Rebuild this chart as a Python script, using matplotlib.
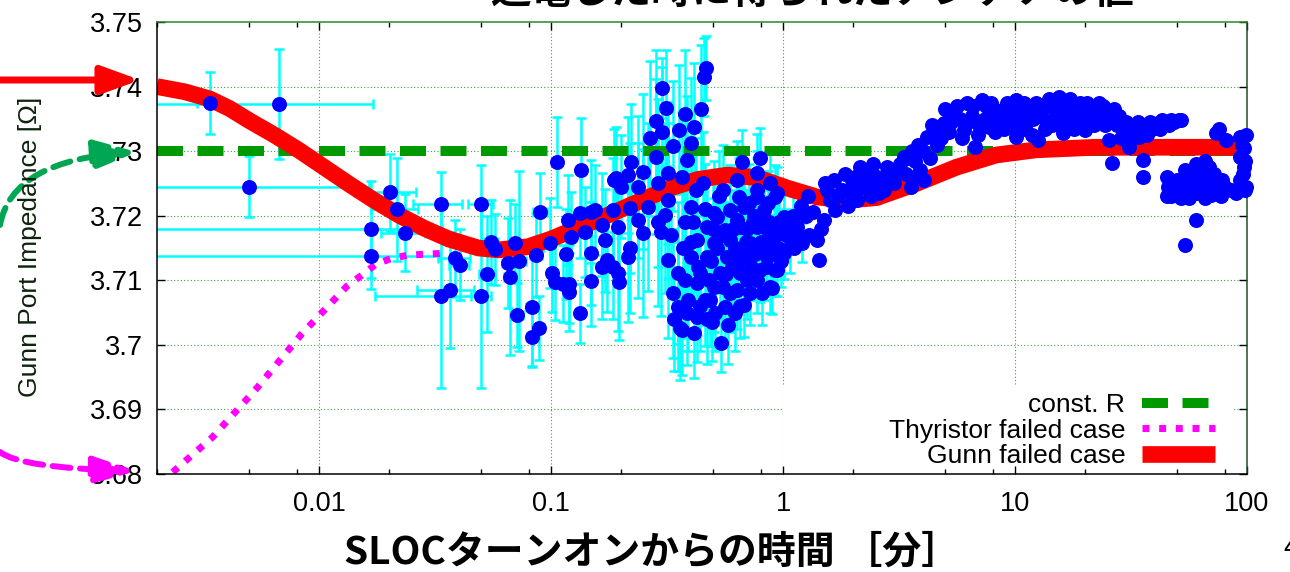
#!/usr/bin/env python3
"""Gunn port impedance vs. time after SLOC turn-on (slide figure)."""

import matplotlib
matplotlib.use("Agg")
import matplotlib.pyplot as plt
from matplotlib.patches import Rectangle, FancyArrowPatch
from matplotlib.path import Path
from matplotlib.ticker import FixedLocator, LogLocator, NullFormatter

# ---- values ----
TITLE = "通電した時に得られたアンテナの値"
XLABEL = "SLOCターンオンからの時間 ［分］"
YLABEL = "Gunn Port Impedance [Ω]"

x_ticks = [0.01, 0.1, 1, 10, 100]
x_ticklabels = ["0.01", "0.1", "1", "10", "100"]
y_ticks = [3.68, 3.69, 3.70, 3.71, 3.72, 3.73, 3.74, 3.75]
y_ticklabels = ["3.68", "3.69", "3.7", "3.71", "3.72", "3.73", "3.74", "3.75"]

const_x = [0.002, 100]
const_y = [3.73, 3.73]

thyristor_x = [0.00206, 0.00234, 0.00347, 0.00542, 0.00837, 0.01319, 0.01515,
               0.01757, 0.02057, 0.02434, 0.03508]
thyristor_y = [3.6786, 3.6803, 3.6857, 3.6934, 3.7016, 3.7091, 3.7107,
               3.7125, 3.7134, 3.7139, 3.7142]

gunn_x = [0.0020, 0.00263, 0.00337, 0.00411, 0.00501, 0.00641, 0.00821, 0.01051,
          0.01345, 0.01722, 0.02205, 0.02823, 0.03614, 0.04861, 0.05924, 0.07964,
          0.1000, 0.1243, 0.1591, 0.2037, 0.2608, 0.3340, 0.4275, 0.5749, 0.7735,
          1.040, 1.399, 1.882, 2.532, 3.760, 5.581, 8.287, 12.31, 22.26, 100]
gunn_y = [3.7400, 3.7392, 3.7381, 3.7366, 3.7347, 3.7325, 3.7301, 3.7275,
          3.7249, 3.7224, 3.7201, 3.7181, 3.7164, 3.7150, 3.7147, 3.7152,
          3.7164, 3.7178, 3.7194, 3.7211, 3.7228, 3.7244, 3.7256, 3.7263, 3.7259,
          3.7243, 3.7229, 3.7224, 3.7228, 3.7250, 3.7275, 3.7294, 3.7302, 3.7306, 3.7306]

# early points (x and y error bars)
early_x = [0.00337, 0.0067, 0.0050, 0.0167, 0.0167, 0.0202, 0.0217, 0.0235, 0.0334, 0.0334,
           0.0365, 0.0387, 0.0404, 0.0500, 0.0500, 0.0531, 0.0552, 0.0574, 0.0654, 0.0668,
           0.0700, 0.0730, 0.0715, 0.0830, 0.0830, 0.0888, 0.0860, 0.0896, 0.0990, 0.101]
early_y = [3.7375, 3.7373, 3.7245, 3.7179, 3.7137, 3.7236, 3.7210, 3.7174, 3.7218, 3.7076,
           3.7085, 3.7134, 3.7124, 3.7218, 3.7076, 3.7110, 3.7159, 3.7148, 3.7127, 3.7105,
           3.7158, 3.7130, 3.7046, 3.7059, 3.7012, 3.7026, 3.7139, 3.7206, 3.7158, 3.7111]
early_xerr = [0.0004, 0.0103, 0.0114, 0.0170, 0.0165, 0.0060, 0.0050, 0.0050, 0.0080, 0.0160,
              0.0100, 0.0060, 0.0040, 0.0060, 0.0050, 0.0040, 0.0040, 0.0040, 0.0040, 0.0040,
              0.0050, 0.0050, 0.0040, 0.0050, 0.0040, 0.0040, 0.0050, 0.0060, 0.0050, 0.0050]
early_yerr = [0.0048, 0.0085, 0.0047, 0.0075, 0.0050, 0.0060, 0.0080, 0.0060, 0.0050, 0.0143,
              0.0090, 0.0060, 0.0055, 0.0060, 0.0143, 0.0090, 0.0065, 0.0055, 0.0070, 0.0120,
              0.0060, 0.0140, 0.0050, 0.0093, 0.0045, 0.0050, 0.0065, 0.0060, 0.0070, 0.0060]

# dense cluster 0.1 - 1.2 min (y error bars)
mid_x = [0.104, 0.106, 0.113, 0.116, 0.118, 0.120, 0.120, 0.122, 0.133, 0.133,
         0.135, 0.140, 0.148, 0.148, 0.148, 0.155, 0.166, 0.166, 0.170, 0.175,
         0.185, 0.185, 0.186, 0.190, 0.194, 0.194, 0.197, 0.200, 0.214, 0.214,
         0.218, 0.218, 0.221, 0.236, 0.236, 0.250, 0.250, 0.261, 0.267, 0.284,
         0.284, 0.288, 0.288, 0.297, 0.300, 0.300, 0.309, 0.314, 0.318, 0.318,
         0.318, 0.336, 0.336, 0.351, 0.351, 0.355, 0.358, 0.365, 0.365, 0.378,
         0.378, 0.378, 0.385, 0.387, 0.400, 0.400, 0.400, 0.400, 0.412, 0.415,
         0.427, 0.427, 0.427, 0.440, 0.441, 0.450, 0.455, 0.460, 0.465, 0.472,
         0.472, 0.480, 0.486, 0.495, 0.505, 0.505, 0.505, 0.520, 0.521, 0.535,
         0.540, 0.550, 0.560, 0.560, 0.575, 0.590, 0.590, 0.590, 0.600, 0.620,
         0.635, 0.635, 0.635, 0.645, 0.655, 0.655, 0.660, 0.667, 0.680, 0.680,
         0.700, 0.700, 0.720, 0.720, 0.750, 0.774, 0.774, 0.774, 0.774, 0.774,
         0.797, 0.797, 0.820, 0.830, 0.850, 0.855, 0.880, 0.880, 0.880, 0.900,
         0.915, 0.925, 0.925, 0.944, 0.944, 0.950, 1.01, 1.01, 1.07, 1.15, 1.21,
         0.33, 0.34, 0.37, 0.39, 0.41, 0.42, 0.43, 0.44, 0.46, 0.47,
         0.49, 0.50, 0.51, 0.53, 0.54, 0.55, 0.57, 0.58, 0.61, 0.62,
         0.64, 0.65, 0.69, 0.70, 0.71, 0.73, 0.74, 0.76, 0.79, 0.80,
         0.81, 0.84, 0.86, 0.87, 0.90, 0.93, 0.96, 0.98, 1.03, 1.10]
mid_y = [3.7098, 3.7283, 3.7095, 3.7141, 3.7193, 3.7094, 3.7082, 3.7167, 3.7049, 3.7204,
         3.7271, 3.7175, 3.7099, 3.7142, 3.7206, 3.7209, 3.7186, 3.7120, 3.7162, 3.7131,
         3.7209, 3.7120, 3.7255, 3.7258, 3.7182, 3.7111, 3.7097, 3.7245, 3.7263, 3.7136,
         3.7212, 3.7150, 3.7283, 3.7245, 3.7193, 3.7268, 3.7173, 3.7213, 3.7320, 3.7347,
         3.7291, 3.7251, 3.7190, 3.7175, 3.7398, 3.7330, 3.7201, 3.7367, 3.7266, 3.7224,
         3.7131, 3.7308, 3.7080, 3.7111, 3.7059, 3.7333, 3.7026, 3.7260, 3.7023, 3.7357,
         3.7190, 3.7100, 3.7286, 3.7049, 3.7313, 3.7213, 3.7159, 3.7136, 3.7018, 3.7337,
         3.7162, 3.7096, 3.7043, 3.7111, 3.7365, 3.7250, 3.7415, 3.7069, 3.7429, 3.7182,
         3.7136, 3.7100, 3.7069, 3.7035, 3.7204, 3.7158, 3.7090, 3.7150, 3.7198, 3.7111,
         3.7003, 3.7240, 3.7178, 3.7059, 3.7136, 3.7209, 3.7162, 3.7080, 3.7120, 3.7050,
         3.7255, 3.7193, 3.7085, 3.7229, 3.7182, 3.7111, 3.7145, 3.7283, 3.7213, 3.7062,
         3.7136, 3.7180, 3.7158, 3.7080, 3.7200, 3.7266, 3.7240, 3.7229, 3.7182, 3.7100,
         3.7289, 3.7116, 3.7150, 3.7209, 3.7180, 3.7136, 3.7251, 3.7162, 3.7090, 3.7088,
         3.7182, 3.7229, 3.7116, 3.7235, 3.7116, 3.7150, 3.7198, 3.7142, 3.7152, 3.7182, 3.7158,
         3.7170, 3.7040, 3.7150, 3.7070, 3.7190, 3.7240, 3.7120, 3.7060, 3.7210, 3.7040,
         3.7130, 3.7180, 3.7050, 3.7230, 3.7170, 3.7090, 3.7110, 3.7030, 3.7180, 3.7150,
         3.7130, 3.7060, 3.7160, 3.7100, 3.7220, 3.7120, 3.7190, 3.7140, 3.7200, 3.7160,
         3.7080, 3.7120, 3.7220, 3.7190, 3.7140, 3.7170, 3.7190, 3.7130, 3.7170, 3.7200]
mid_yerr = [0.006, 0.007, 0.006, 0.007, 0.007, 0.006, 0.006, 0.007, 0.0046, 0.007,
            0.008, 0.007, 0.007, 0.008, 0.008, 0.007, 0.008, 0.008, 0.008, 0.008,
            0.008, 0.008, 0.008, 0.008, 0.008, 0.009, 0.009, 0.008, 0.009, 0.010,
            0.010, 0.010, 0.009, 0.011, 0.012, 0.012, 0.013, 0.013, 0.012, 0.011,
            0.012, 0.013, 0.013, 0.013, 0.0047, 0.010, 0.012, 0.009, 0.011, 0.012,
            0.012, 0.010, 0.010, 0.011, 0.010, 0.010, 0.008, 0.010, 0.007, 0.010,
            0.010, 0.009, 0.010, 0.008, 0.010, 0.009, 0.009, 0.008, 0.007, 0.010,
            0.008, 0.008, 0.007, 0.008, 0.010, 0.008, 0.006, 0.007, 0.005, 0.008,
            0.008, 0.007, 0.007, 0.006, 0.008, 0.007, 0.007, 0.007, 0.007, 0.007,
            0.0045, 0.007, 0.007, 0.006, 0.007, 0.007, 0.006, 0.006, 0.006, 0.006,
            0.006, 0.006, 0.006, 0.006, 0.006, 0.006, 0.006, 0.005, 0.006, 0.005,
            0.006, 0.006, 0.006, 0.005, 0.006, 0.006, 0.006, 0.006, 0.005, 0.005,
            0.0047, 0.005, 0.005, 0.005, 0.005, 0.005, 0.005, 0.005, 0.004, 0.004,
            0.005, 0.005, 0.004, 0.004, 0.004, 0.004, 0.004, 0.004, 0.004, 0.003, 0.003,
            0.009, 0.008, 0.009, 0.008, 0.008, 0.008, 0.008, 0.007, 0.007, 0.007,
            0.007, 0.007, 0.006, 0.007, 0.006, 0.006, 0.006, 0.006, 0.006, 0.006,
            0.006, 0.005, 0.006, 0.006, 0.006, 0.005, 0.005, 0.005, 0.005, 0.005,
            0.005, 0.005, 0.005, 0.005, 0.004, 0.004, 0.004, 0.004, 0.004, 0.003]

# later points (> 1 min), error bars hidden under the markers
late_x = [1.15, 1.25, 1.30, 1.40, 1.43, 1.50, 1.51, 1.60, 1.67, 1.79,
          1.90, 1.98, 2.09, 2.20, 2.30, 2.40, 2.55, 2.60, 2.72, 2.80,
          3.00, 3.11, 3.32, 3.40, 3.55, 3.70, 3.91, 4.00, 4.06, 4.19,
          4.30, 4.49, 4.60, 4.95, 5.20, 5.45, 5.80, 6.00, 6.20, 6.50,
          6.70, 7.00, 7.20, 7.50, 7.70, 8.00, 8.50, 8.80, 9.20, 9.60,
          10.1, 10.1, 10.6, 11.0, 11.5, 12.0, 12.3, 12.6, 13.1, 13.8,
          14.5, 15.0, 15.5, 16.1, 16.8, 17.5, 18.3, 19.0, 19.5, 20.1,
          21.0, 22.0, 22.9, 24.0, 25.3, 25.3, 26.2, 26.8, 27.5, 28.5,
          29.1, 30.5, 31.1, 33.0, 34.2, 35.6, 35.6, 36.0, 38.0, 40.0,
          41.4, 44.0, 45.0, 45.6, 47.0, 48.0, 50.0, 50.9, 54.3, 54.3,
          54.3, 57.0, 58.0, 60.3, 62.0, 63.0, 65.0, 68.7, 70.0, 72.0,
          73.6, 75.9, 78.0, 81.3, 85.0, 89.8, 93.6, 93.6, 93.6, 97.0,
          97.0, 99.0,
          1.05, 1.12, 1.20, 1.28, 1.35, 1.45, 1.55, 1.65, 1.72, 1.85,
          1.95, 2.05, 2.15, 2.25, 2.35, 2.45, 2.50, 2.65, 2.90, 3.20,
          3.50, 3.60, 3.80, 3.85, 4.40, 4.80, 5.00, 5.30, 5.60, 5.90,
          6.30, 6.60, 6.90, 7.40, 7.90, 8.20, 8.60, 9.00, 9.40, 9.80,
          10.4, 10.9, 11.3, 11.8, 12.5, 13.4, 14.0, 14.8, 15.8, 16.5,
          17.2, 18.0, 18.8, 20.5, 21.5, 23.5, 24.5, 26.0, 28.0, 30.0,
          32.0, 34.0, 37.0, 39.0, 42.0, 43.0, 46.0, 48.5, 52.0, 45.0,
          47.0, 50.0, 52.0, 55.0, 56.0, 59.0, 61.0, 64.0, 66.0, 67.0,
          70.0, 74.0, 77.0, 80.0, 60.0, 66.0, 76.0, 95.0, 96.0, 98.0,
          98.0, 99.0]
late_y = [3.7167, 3.7200, 3.7170, 3.7162, 3.7131, 3.7193, 3.7250, 3.7225, 3.7209, 3.7240,
          3.7215, 3.7255, 3.7224, 3.7245, 3.7271, 3.7230, 3.7260, 3.7235, 3.7240, 3.7275,
          3.7250, 3.7266, 3.7291, 3.7265, 3.7244, 3.7285, 3.7271, 3.7300, 3.7255, 3.7322,
          3.7290, 3.7333, 3.7310, 3.7344, 3.7330, 3.7359, 3.7350, 3.7333, 3.7375, 3.7355,
          3.7306, 3.7340, 3.7379, 3.7370, 3.7337, 3.7355, 3.7345, 3.7364, 3.7375, 3.7340,
          3.7379, 3.7322, 3.7355, 3.7335, 3.7368, 3.7350, 3.7375, 3.7317, 3.7353, 3.7370,
          3.7340, 3.7355, 3.7384, 3.7328, 3.7370, 3.7345, 3.7359, 3.7375, 3.7350, 3.7333,
          3.7360, 3.7340, 3.7375, 3.7370, 3.7359, 3.7317, 3.7282, 3.7365, 3.7340, 3.7320,
          3.7337, 3.7330, 3.7306, 3.7340, 3.7322, 3.7260, 3.7286, 3.7335, 3.7345, 3.7340,
          3.7344, 3.7345, 3.7230, 3.7244, 3.7348, 3.7248, 3.7240, 3.7348, 3.7271, 3.7235,
          3.7155, 3.7262, 3.7240, 3.7193, 3.7250, 3.7270, 3.7240, 3.7275, 3.7245, 3.7265,
          3.7328, 3.7240, 3.7255, 3.7317, 3.7240, 3.7235, 3.7322, 3.7291, 3.7255, 3.7305,
          3.7275, 3.7245,
          3.7185, 3.7150, 3.7215, 3.7230, 3.7205, 3.7180, 3.7240, 3.7255, 3.7230, 3.7265,
          3.7235, 3.7260, 3.7275, 3.7250, 3.7260, 3.7280, 3.7250, 3.7255, 3.7260, 3.7280,
          3.7290, 3.7300, 3.7310, 3.7260, 3.7340, 3.7320, 3.7365, 3.7345, 3.7370, 3.7320,
          3.7345, 3.7370, 3.7325, 3.7350, 3.7375, 3.7330, 3.7360, 3.7335, 3.7355, 3.7370,
          3.7340, 3.7375, 3.7345, 3.7325, 3.7360, 3.7335, 3.7380, 3.7365, 3.7345, 3.7355,
          3.7380, 3.7335, 3.7365, 3.7375, 3.7345, 3.7355, 3.7340, 3.7345, 3.7355, 3.7345,
          3.7320, 3.7345, 3.7325, 3.7335, 3.7335, 3.7348, 3.7340, 3.7345, 3.7348, 3.7260,
          3.7230, 3.7255, 3.7228, 3.7250, 3.7228, 3.7265, 3.7235, 3.7258, 3.7228, 3.7265,
          3.7232, 3.7250, 3.7230, 3.7245, 3.7280, 3.7285, 3.7335, 3.7310, 3.7265, 3.7285,
          3.7240, 3.7325]

legend_labels = ["const. R", "Thyristor failed case", "Gunn failed case"]

W, H = 1290, 572
CJK = ["Noto Sans CJK JP", "DejaVu Sans"]
BLUE = "#0000ff"
CYAN = "#00ffff"


def fig_frac(px, py):
    # pixel position in the picture (origin top-left) -> figure fraction
    return px / W, 1 - py / H


def main() -> None:
    plt.rcParams["font.family"] = ["Liberation Sans", "DejaVu Sans"]
    fig = plt.figure(figsize=(W / 100, H / 100), dpi=100)
    ax = fig.add_axes([157 / W, 1 - 474 / H, 1090 / W, 452 / H])

    ax.set_xscale("log")
    ax.set_xlim(0.002, 100)
    ax.set_ylim(3.68, 3.75)

    # grid drawn by hand so the key box can hide part of it
    for xv in x_ticks[:-1]:
        ax.axvline(xv, color="#3aa63a", lw=0.8, ls=(0, (1, 2)), zorder=0.5)
    for yv in y_ticks[1:-1]:
        ax.axhline(yv, color="#3aa63a", lw=0.8, ls=(0, (1, 2)), zorder=0.5)
    ax.add_patch(Rectangle((0.574, 0.0), 0.412, 0.197, transform=ax.transAxes,
                           facecolor="white", edgecolor="none", zorder=0.8))

    ax.errorbar(early_x, early_y, xerr=early_xerr, yerr=early_yerr, fmt="none",
                ecolor=CYAN, elinewidth=1.8, capsize=3.5, capthick=1.8, zorder=1)
    ax.errorbar(mid_x, mid_y, yerr=mid_yerr, fmt="none",
                ecolor=CYAN, elinewidth=1.8, capsize=3.5, capthick=1.8, zorder=1)

    l1, = ax.plot(const_x, const_y, color="#009900", lw=7.2, dashes=(2.6, 1.45),
                  solid_capstyle="butt", dash_capstyle="butt", zorder=2)
    l2, = ax.plot(thyristor_x, thyristor_y, color="#ff00ff", lw=5, dashes=(1, 1.4),
                  dash_capstyle="butt", zorder=2.2)
    l3, = ax.plot(gunn_x, gunn_y, color="#ff0000", lw=12, solid_capstyle="butt",
                  solid_joinstyle="round", zorder=2.4)

    for xs, ys in [(early_x, early_y), (mid_x, mid_y), (late_x, late_y)]:
        ax.plot(xs, ys, "o", color=BLUE, ms=10.8, mec=BLUE, mew=0,
                zorder=3, clip_on=False)

    # ticks
    ax.xaxis.set_major_locator(FixedLocator(x_ticks))
    ax.set_xticklabels(x_ticklabels)
    ax.xaxis.set_minor_locator(LogLocator(base=10, subs=(2, 5, 8)))
    ax.xaxis.set_minor_formatter(NullFormatter())
    ax.set_yticks(y_ticks)
    ax.set_yticklabels(y_ticklabels)
    ax.tick_params(which="both", direction="in", top=True, right=True, color="black")
    ax.tick_params(which="major", length=6, width=1, labelsize=19.5)
    ax.tick_params(which="minor", length=3.5, width=1)
    ax.tick_params(axis="x", pad=12)
    ax.tick_params(axis="y", pad=10)
    for side, col in [("left", "black"), ("bottom", "black"),
                      ("top", "#2a8a2a"), ("right", "#1f4f1f")]:
        ax.spines[side].set_color(col)
        ax.spines[side].set_linewidth(1.1)

    leg = ax.legend([l1, l2, l3], legend_labels, loc="lower right",
                    bbox_to_anchor=(1 - 32 / 1090, 6 / 452), borderaxespad=0,
                    borderpad=0, frameon=False, markerfirst=False,
                    handlelength=2.76, handletextpad=0.64, labelspacing=0.05,
                    fontsize=19)
    leg.set_zorder(4)

    # texts around the axes
    fig.text(*fig_frac(30, 247), YLABEL, rotation=90, ha="center", va="center",
             fontsize=19, color="#0d220d")
    fig.text(*fig_frac(652, 552), XLABEL, ha="center", va="center",
             fontsize=28, family=CJK, weight="bold")
    fig.text(*fig_frac(812, 12), TITLE, ha="center", va="bottom",
             fontsize=29, family=CJK, weight="bold")
    fig.text(*fig_frac(1283, 548), "4", ha="left", va="center", fontsize=20)

    # slide arrows pointing at the y axis
    tf = fig.transFigure
    red = FancyArrowPatch(fig_frac(-5, 80), fig_frac(140, 80), transform=tf,
                          arrowstyle="-|>,head_length=1.15,head_width=0.42",
                          mutation_scale=20, color="#ff0000", lw=5,
                          shrinkA=0, shrinkB=0)
    fig.add_artist(red)
    gpath = Path([fig_frac(0, 225), fig_frac(12, 160), fig_frac(137, 152)],
                 [Path.MOVETO, Path.CURVE3, Path.CURVE3])
    green = FancyArrowPatch(path=gpath, transform=tf,
                            arrowstyle="-|>,head_length=1.3,head_width=0.45",
                            mutation_scale=20, color="#00a651", lw=4.3, ls=(0, (3, 1.6)))
    fig.add_artist(green)
    mpath = Path([fig_frac(0, 452), fig_frac(20, 468), fig_frac(137, 471)],
                 [Path.MOVETO, Path.CURVE3, Path.CURVE3])
    mag = FancyArrowPatch(path=mpath, transform=tf,
                          arrowstyle="-|>,head_length=1.3,head_width=0.4",
                          mutation_scale=20, color="#ff00ff", lw=4.3, ls=(0, (3, 1.6)))
    fig.add_artist(mag)

    fig.savefig("out.png", dpi=100)
    plt.close(fig)


if __name__ == "__main__":
    main()
